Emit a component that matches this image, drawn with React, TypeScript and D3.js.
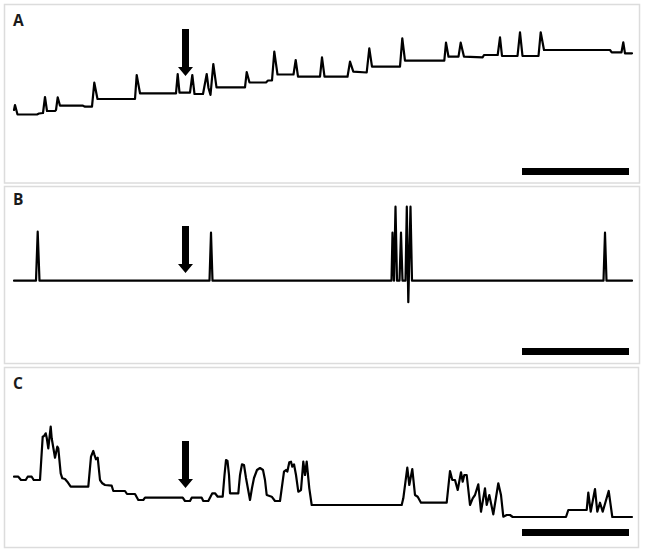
import React from "react";
import * as d3 from "d3";

// Trace A: [time (s), signal]
const traceA: [number, number][] = [
  [0, 0.10], [1, 0.15], [3.5, 0.055], [23, 0.055], [25, 0.065], [29, 0.07], [31, 0.23], [33, 0.09],
  [41, 0.09], [42, 0.10], [43.7, 0.227], [46, 0.143], [69, 0.143], [71, 0.133], [78, 0.133],
  [80.3, 0.373], [83.5, 0.21], [121, 0.21], [122.7, 0.45], [126, 0.267], [162, 0.267],
  [163.7, 0.46], [165.5, 0.273], [176, 0.273], [178.3, 0.45], [180.5, 0.26], [189, 0.26],
  [192.7, 0.46], [194.5, 0.32], [196.5, 0.25], [199.3, 0.56], [202.5, 0.327], [231, 0.327],
  [232.7, 0.48], [235.5, 0.375], [252, 0.375], [254, 0.395], [258, 0.395], [260.3, 0.683],
  [263.5, 0.455], [279.5, 0.455], [281.7, 0.60], [284, 0.433], [306, 0.433], [308, 0.627],
  [310.5, 0.433], [333.5, 0.433], [336, 0.583], [339.3, 0.483], [352.7, 0.475], [355.3, 0.717],
  [358, 0.533], [386, 0.533], [388.3, 0.817], [391, 0.593], [430.3, 0.593], [432, 0.773],
  [434.5, 0.633], [444.5, 0.633], [446.7, 0.773], [450, 0.633], [468.7, 0.627], [470, 0.65],
  [483.7, 0.65], [486, 0.827], [488, 0.64], [503.5, 0.64], [506, 0.877], [508.5, 0.64],
  [524.5, 0.64], [526.7, 0.877], [530, 0.70], [596, 0.70], [597.7, 0.677], [607.5, 0.677],
  [609.3, 0.777], [611, 0.667], [618, 0.667],
];

// Trace B
const traceB: [number, number][] = [
  [0, 0], [22, 0], [23.7, 0.98], [25.5, 0], [195.5, 0], [197, 0.96], [198.5, 0],
  [377.5, 0], [378.5, 0.96], [380, 0], [381.5, 1.48], [383, 0], [385.5, 0], [387, 0.96],
  [388.5, 0], [391.5, 0], [392.8, 1.48], [394.3, -0.43], [396.5, 1.48], [398, 0],
  [589.5, 0], [591, 0.96], [592.5, 0], [618, 0],
];

// Trace C
const traceC: [number, number][] = [
  [0, 0.433], [4.3, 0.433], [7, 0.40], [11.7, 0.40], [13.7, 0.433], [17.7, 0.433], [19.7, 0.40],
  [26, 0.40], [28.7, 0.833], [30, 0.84], [31.7, 0.867], [32.7, 0.823], [34.3, 0.717],
  [36.7, 0.933], [37.7, 0.817], [40, 0.683], [41, 0.623], [43.3, 0.733], [44.3, 0.717],
  [46.7, 0.467], [48.3, 0.417], [51, 0.41], [53.3, 0.383], [56.7, 0.333], [74.3, 0.333],
  [77, 0.633], [79.3, 0.69], [80.3, 0.657], [82, 0.607], [83.7, 0.623], [86, 0.40],
  [88.3, 0.367], [91, 0.35], [97.7, 0.343], [99.3, 0.29], [111, 0.29], [113, 0.26],
  [121, 0.26], [124.3, 0.20], [129.3, 0.20], [131, 0.223], [168.7, 0.223], [171, 0.19],
  [176, 0.19], [177.7, 0.223], [187.7, 0.223], [189.3, 0.19], [194.3, 0.19], [198.3, 0.267],
  [201, 0.267], [203.7, 0.233], [208.7, 0.233], [210.5, 0.45], [212, 0.60], [213.5, 0.59],
  [215, 0.45], [216, 0.267], [224.3, 0.267], [226, 0.45], [228, 0.557], [230, 0.55],
  [232, 0.42], [236, 0.20], [238, 0.32], [240, 0.42], [243, 0.50], [246, 0.52], [249, 0.50],
  [251, 0.40], [252.7, 0.25], [257.7, 0.233], [261, 0.19], [266, 0.19], [270, 0.483],
  [272, 0.50], [273.3, 0.483], [275.3, 0.577], [277, 0.583], [278.3, 0.533], [280, 0.557],
  [282, 0.45], [284.3, 0.283], [287, 0.30], [289.3, 0.583], [291, 0.45], [292.7, 0.583],
  [295.3, 0.317], [297.7, 0.15], [387.7, 0.15], [389.3, 0.217], [393.3, 0.523], [395.3, 0.35],
  [398.3, 0.51], [401, 0.25], [403.7, 0.233], [407, 0.173], [432.7, 0.173], [436, 0.49],
  [438.3, 0.40], [441, 0.40], [443.7, 0.30], [447, 0.477], [448.7, 0.383], [450.3, 0.45],
  [452.7, 0.45], [456, 0.15], [458.7, 0.217], [461, 0.25], [464.3, 0.357], [467, 0.083],
  [471, 0.317], [472.7, 0.15], [475.3, 0.25], [479.3, 0.057], [484.3, 0.367], [487, 0.25],
  [489.3, 0.033], [492.7, 0.05], [496, 0.05], [498.7, 0.03], [552, 0.03], [554.3, 0.10],
  [572.7, 0.10], [574.3, 0.273], [576.7, 0.083], [581, 0.31], [583.3, 0.083], [586, 0.173],
  [588.7, 0.083], [594.7, 0.29], [598.3, 0.03], [618, 0.03],
];

const panelLabels = ["A", "B", "C"];
const stimulusTime = 171.5;
const scaleBarStart = 508;
const scaleBarLength = 107;

const W = 645;
const H = 552;

const x = d3.scaleLinear().domain([0, 620]).range([14, 634]);

const panels = [
  { label: panelLabels[0], data: traceA, box: [4.5, 4.5, 635, 178.5], y: d3.scaleLinear().domain([0, 1]).range([120, 20]), labelY: 26, arrowTop: 29, barY: 168 },
  { label: panelLabels[1], data: traceB, box: [4.5, 186.5, 635, 177], y: d3.scaleLinear().domain([0, 1]).range([280.7, 230.7]), labelY: 205, arrowTop: 226, barY: 348 },
  { label: panelLabels[2], data: traceC, box: [4.5, 367.5, 634, 180], y: d3.scaleLinear().domain([0, 1]).range([520, 420]), labelY: 388.5, arrowTop: 441, barY: 529 },
];

function arrowPath(cx: number, top: number) {
  const shaftW = 7, headW = 15, len = 47, headH = 9;
  const p = d3.path();
  p.moveTo(cx - shaftW / 2, top);
  p.lineTo(cx + shaftW / 2, top);
  p.lineTo(cx + shaftW / 2, top + len - headH);
  p.lineTo(cx + headW / 2, top + len - headH);
  p.lineTo(cx, top + len);
  p.lineTo(cx - headW / 2, top + len - headH);
  p.lineTo(cx - shaftW / 2, top + len - headH);
  p.closePath();
  return p.toString();
}

export default function App() {
  return (
    <svg width={W} height={H} style={{ position: "absolute", left: 0, top: 0, background: "#fff" }}>
      <rect x={0} y={0} width={W} height={H} fill="#fff" />
      {panels.map((pn) => {
        const line = d3
          .line<[number, number]>()
          .x((d) => x(d[0]))
          .y((d) => pn.y(d[1]))
          .curve(d3.curveLinear);
        const [bx, by, bw, bh] = pn.box;
        return (
          <g key={pn.label}>
            <rect x={bx} y={by} width={bw} height={bh} fill="none" stroke="#dcdcdc" strokeWidth={1.5} />
            <text x={13} y={pn.labelY} fontFamily="'Open Sans', 'DejaVu Sans', sans-serif" fontWeight="bold" fontSize={15.5} fill="#1a1a1a">
              {pn.label}
            </text>
            <path d={line(pn.data) || ""} fill="none" stroke="#000" strokeWidth={2.2} strokeLinejoin="round" strokeLinecap="round" />
            <path d={arrowPath(x(stimulusTime), pn.arrowTop)} fill="#000" />
            <rect x={x(scaleBarStart)} y={pn.barY} width={x(scaleBarStart + scaleBarLength) - x(scaleBarStart)} height={7} fill="#000" />
          </g>
        );
      })}
    </svg>
  );
}
